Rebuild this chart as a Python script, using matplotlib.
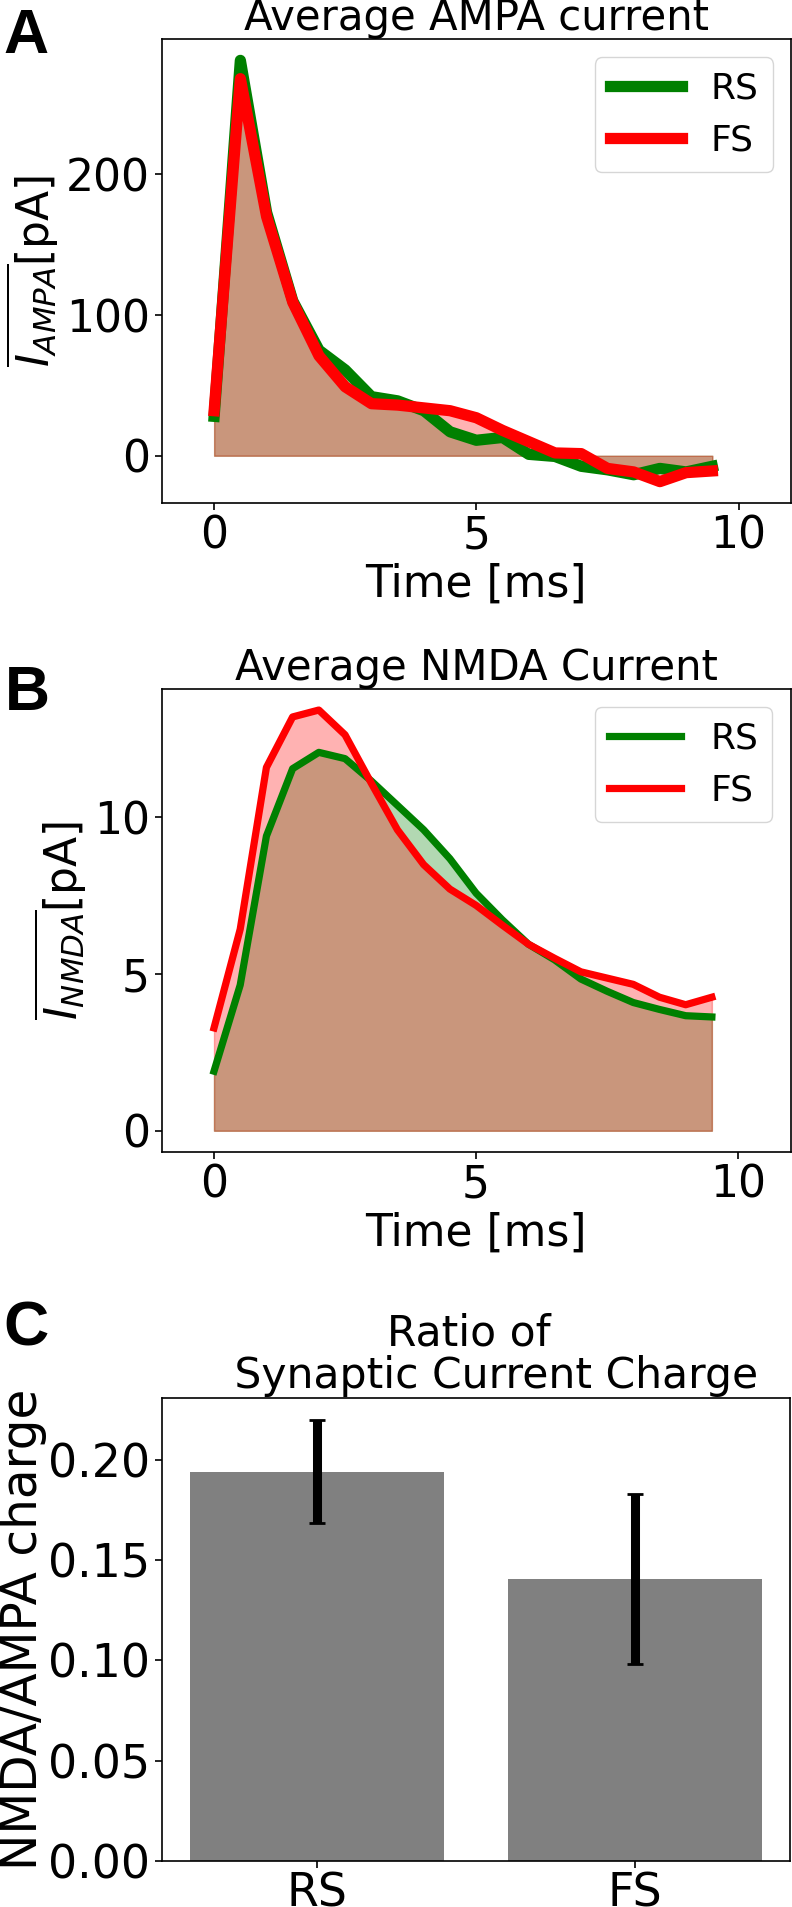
import matplotlib
matplotlib.use("Agg")
import matplotlib.pyplot as plt

# ---------------- data ----------------
time_ms = [0.0, 0.5, 1.0, 1.5, 2.0, 2.5, 3.0, 3.5, 4.0, 4.5,
           5.0, 5.5, 6.0, 6.5, 7.0, 7.5, 8.0, 8.5, 9.0, 9.5]

ampa_rs = [28, 281, 173, 110, 75, 61, 42, 39, 32, 17,
           11, 13, 1, -0.5, -7.5, -10, -13.5, -9, -11.5, -7.5]
ampa_fs = [32, 268, 170, 109, 71, 49, 37, 36, 34, 32,
           27, 18, 10, 2, 1.5, -9, -11.5, -18.4, -12, -10.8]

nmda_rs = [1.9, 4.65, 9.4, 11.55, 12.07, 11.87, 11.16, 10.38, 9.6, 8.68,
           7.58, 6.73, 5.95, 5.45, 4.84, 4.45, 4.09, 3.87, 3.67, 3.63]
nmda_fs = [3.28, 6.43, 11.59, 13.2, 13.42, 12.63, 11.09, 9.6, 8.49, 7.71,
           7.19, 6.56, 5.95, 5.5, 5.07, 4.87, 4.67, 4.26, 4.02, 4.26]

cell_types = ["RS", "FS"]
ratio_mean = [0.194, 0.1406]
ratio_err = [0.0257, 0.0426]

# ---------------- style ----------------
W, H, DPI = 792, 1907, 100
plt.rcParams["font.family"] = ["DejaVu Sans"]
plt.rcParams["axes.linewidth"] = 1.2

TICK_FS = 31.7
LABEL_FS = 31.7
TITLE_FS = 30.2
LEG_FS = 26

fig = plt.figure(figsize=(W / DPI, H / DPI), dpi=DPI)


def ax_at(left, top, right, bottom):
    return fig.add_axes([left / W, 1 - bottom / H, (right - left) / W, (bottom - top) / H])


def style(ax, size=TICK_FS):
    ax.tick_params(labelsize=size, length=4.8, width=1.2, pad=3.5)


# ---------------- panel A ----------------
axA = ax_at(161.7, 39.3, 791, 502.7)
axA.plot(time_ms, ampa_rs, color="green", lw=8.1, label="RS")
axA.fill_between(time_ms, ampa_rs, color="green", alpha=0.3)
axA.plot(time_ms, ampa_fs, color="red", lw=8.1, label="FS")
axA.fill_between(time_ms, ampa_fs, color="red", alpha=0.3)
axA.set_xlim(-1, 11)
axA.set_xticks([0, 5, 10])
axA.set_yticks([0, 100, 200])
axA.set_title("Average AMPA current", fontsize=TITLE_FS, pad=5)
axA.set_xlabel("Time [ms]", fontsize=LABEL_FS)
axA.set_ylabel(r"$\overline{I_{AMPA}}$[pA]", fontsize=LABEL_FS)
axA.legend(fontsize=LEG_FS, loc="upper right")
style(axA)

# ---------------- panel B ----------------
axB = ax_at(161.6, 689, 790.5, 1151.8)
axB.plot(time_ms, nmda_rs, color="green", lw=5.2, label="RS")
axB.fill_between(time_ms, nmda_rs, color="green", alpha=0.3)
axB.plot(time_ms, nmda_fs, color="red", lw=5.2, label="FS")
axB.fill_between(time_ms, nmda_fs, color="red", alpha=0.3)
axB.set_xlim(-1, 11)
axB.set_xticks([0, 5, 10])
axB.set_yticks([0, 5, 10])
axB.set_title("Average NMDA Current", fontsize=TITLE_FS, pad=5)
axB.set_xlabel("Time [ms]", fontsize=LABEL_FS)
axB.set_ylabel(r"$\overline{I_{NMDA}}$[pA]", fontsize=LABEL_FS)
axB.legend(fontsize=LEG_FS, loc="upper right")
style(axB)

# ---------------- panel C ----------------
axC = ax_at(161.6, 1398.3, 790.4, 1861)
axC.bar(cell_types, ratio_mean, color="gray", width=0.8)
axC.errorbar(cell_types, ratio_mean, yerr=ratio_err, fmt="none", ecolor="black",
             elinewidth=6.5, capsize=5.5, capthick=2.0)
axC.set_yticks([0.00, 0.05, 0.10, 0.15, 0.20])
axC.set_title("Ratio of \n   Synaptic Current Charge", fontsize=30.6, pad=7.5,
              linespacing=1.0)
axC.set_ylabel("NMDA/AMPA charge", fontsize=35, labelpad=1)
style(axC, 33)
axC.tick_params(axis="x", pad=2.5)

# ---------------- panel letters ----------------
for letter, xpx, ypx in [("A", 3, 53), ("B", 5, 710), ("C", 3, 1346)]:
    fig.text(xpx / W, 1 - ypx / H, letter, fontsize=45, fontweight="bold",
             family=["Liberation Sans", "DejaVu Sans"], va="baseline", ha="left")

fig.savefig("out.png", dpi=DPI)
